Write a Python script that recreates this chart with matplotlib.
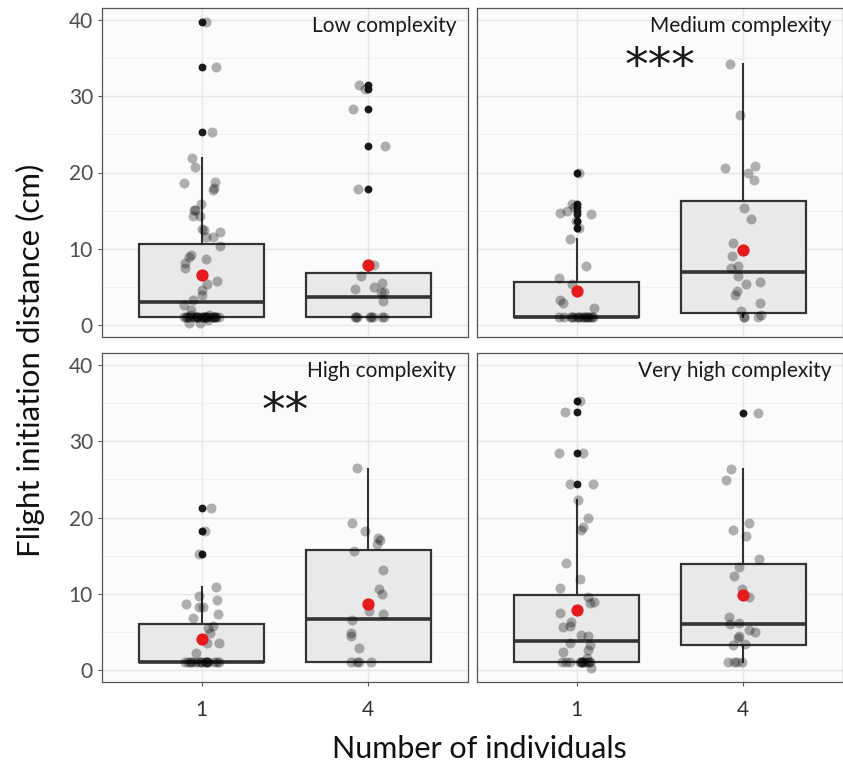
import numpy as np
import matplotlib
matplotlib.use("Agg")
from matplotlib import pyplot as plt

plt.rcParams['font.family'] = ['Lato', 'DejaVu Sans']

px = 1 / 100  # pixel in inches at dpi 100

# facet titles and x categories
facets = ["Low complexity", "Medium complexity", "High complexity", "Very high complexity"]
groups = ["1", "4"]
y_ticks = [0, 10, 20, 30, 40]

# flight initiation distance (cm), read from the jittered points
low_1 = [39.8, 33.9, 25.3, 21.9, 20.7, 18.7, 18.6, 17.9, 17.7, 15.9, 15.1, 15.1, 14.3, 14.3,
         12.6, 12.4, 12.2, 11.5, 11.5, 10.3, 9.2, 8.9, 8.6, 8.1, 7.5, 6.6, 6.6, 5.7, 5.3, 4.6,
         3.9, 3.3, 2.6, 2.0, 1.3, 1.3] + [1.0] * 26 + [0.6, 0.3, 0.3]
low_4 = [31.5, 31.0, 28.4, 23.5, 17.8, 7.8, 6.4, 5.5, 5.0, 4.7, 4.3, 4.3, 3.1] + [1.0] * 8
medium_1 = [20.0, 15.9, 15.5, 15.0, 14.7, 14.5, 13.6, 12.7, 11.3, 7.7, 6.2, 5.4, 3.2, 2.8,
            2.2] + [1.0] * 16
medium_4 = [34.3, 27.5, 20.8, 20.6, 20.0, 19.0, 15.4, 13.9, 10.7, 9.0, 7.7, 7.5, 6.4, 5.6,
            5.3, 4.5, 3.9, 2.9, 1.75, 1.3, 1.0, 1.0, 1.0]
high_1 = [21.3, 18.2, 15.2, 10.9, 9.7, 9.2, 8.7, 8.3, 8.3, 7.3, 6.8, 5.7, 5.5, 4.8, 3.5, 3.5,
          2.2] + [1.0] * 16
high_4 = [26.5, 19.3, 18.2, 17.3, 17.1, 16.5, 15.6, 13.1, 10.6, 9.9, 7.7, 7.3, 6.6, 4.8, 4.4,
          2.9] + [1.0] * 4
vhigh_1 = [35.3, 33.9, 28.5, 28.5, 24.4, 24.4, 22.3, 19.9, 18.8, 18.4, 14.0, 11.9, 10.8, 9.5,
           8.9, 8.8, 7.5, 6.3, 5.7, 5.6, 4.6, 4.4, 3.5, 3.3, 2.6, 2.4, 1.5, 0.2] + [1.0] * 12
vhigh_4 = [33.7, 26.4, 24.9, 19.3, 18.4, 17.6, 14.5, 13.5, 12.3, 10.6, 9.5, 7.0, 6.2, 6.0, 5.2,
           4.9, 4.4, 4.2, 3.4, 3.3] + [1.0] * 4
points = [[low_1, low_4], [medium_1, medium_4], [high_1, high_4], [vhigh_1, vhigh_4]]

box_q1 = [[1.0, 1.0], [1.0, 1.6], [1.0, 1.0], [1.0, 3.2]]
box_med = [[3.0, 3.6], [1.0, 6.9], [1.0, 6.7], [3.8, 6.0]]
box_q3 = [[10.6, 6.8], [5.6, 16.3], [6.0, 15.7], [9.8, 13.9]]
whisk_lo = [[1.0, 1.0], [1.0, 1.0], [1.0, 1.0], [1.0, 1.0]]
whisk_hi = [[21.9, 7.8], [11.3, 34.2], [10.9, 26.4], [22.3, 26.4]]
outliers = [[[39.8, 33.9, 25.3], [31.5, 31.0, 28.4, 23.5, 17.8]],
            [[20.0, 15.9, 15.5, 15.0, 14.5, 13.6, 12.7], []],
            [[21.3, 18.2, 15.2], []],
            [[35.3, 33.9, 28.5, 24.4], [33.7]]]
group_mean = [[6.5, 7.85], [4.5, 9.8], [4.0, 8.7], [7.9, 9.8]]

# significance stars
stars = ["", "***", "**", ""]

fig = plt.figure(figsize=(843 * px, 770 * px), dpi=100)

# panel rectangles in figure fractions (left, bottom, width, height)
W = 366 / 843
H = 329 / 770
rects = [(102 / 843, 1 - 337 / 770, W, H), (477 / 843, 1 - 337 / 770, W, H),
         (102 / 843, 1 - 682 / 770, W, H), (477 / 843, 1 - 682 / 770, W, H)]

rng = np.random.default_rng(7)

for i, title in enumerate(facets):
    ax = fig.add_axes(rects[i])
    ax.set_facecolor('#fbfbfb')

    stats = []
    for g in range(2):
        stats.append(dict(q1=box_q1[i][g], med=box_med[i][g], q3=box_q3[i][g],
                          whislo=whisk_lo[i][g], whishi=whisk_hi[i][g], fliers=[]))
    ax.bxp(stats, positions=[1, 2], widths=0.75, patch_artist=True, showfliers=False,
           showcaps=False, manage_ticks=False,
           boxprops=dict(facecolor='#e9e9e9', edgecolor='#333333', linewidth=1.6),
           medianprops=dict(color='#333333', linewidth=2.6),
           whiskerprops=dict(color='#333333', linewidth=1.5))

    for g in range(2):
        out = outliers[i][g]
        ax.scatter([g + 1] * len(out), out, s=32, color='#1a1a1a', linewidths=0, zorder=3)
        vals = np.array(points[i][g])
        xj = g + 1 + rng.uniform(-0.11, 0.11, len(vals))
        ax.scatter(xj, vals, s=52, color='black', alpha=0.3, linewidths=0, zorder=4)
        ax.scatter([g + 1], [group_mean[i][g]], s=78, color='#e41a1c', linewidths=0, zorder=5)

    ax.set_xlim(0.4, 2.6)
    ax.set_ylim(-1.6, 41.6)
    ax.set_yticks(y_ticks)
    ax.set_yticks([5, 15, 25, 35], minor=True)
    ax.set_xticks([1, 2])
    ax.grid(True, which='major', color='#e6e6e6', linewidth=1.0, zorder=0)
    ax.grid(True, which='minor', axis='y', color='#f0f0f0', linewidth=0.7, zorder=0)
    ax.set_axisbelow(True)
    for s in ax.spines.values():
        s.set_color('#555555')
        s.set_linewidth(0.9)
    ax.tick_params(which='major', length=3, width=0.8, color='#555555',
                   labelsize=15, labelcolor='#4d4d4d')
    ax.tick_params(which='minor', length=0)

    if i % 2 == 0:
        ax.set_yticklabels([str(t) for t in y_ticks])
    else:
        ax.tick_params(axis='y', labelleft=False, length=0)
    if i >= 2:
        ax.set_xticklabels(groups)
        ax.tick_params(axis='x', pad=10, labelsize=15, labelcolor='#333333')
    else:
        ax.tick_params(axis='x', labelbottom=False, length=0)

    ax.text(1 - 12 / 366, 1 - 8 / 329, title, transform=ax.transAxes, ha='right', va='top',
            fontsize=15, color='#1a1a1a')
    if stars[i]:
        ax.text(1.5, 33.8, stars[i], ha='center', va='center', fontsize=34,
                family='DejaVu Sans', color='#1a1a1a')

fig.text(0.036, 0.532, "Flight initiation distance (cm)", rotation=90, ha='center',
         va='center', fontsize=22.5, color='#111111')
fig.text(0.569, 0.027, "Number of individuals", ha='center', va='center', fontsize=22,
         color='#111111')

fig.savefig("out.png", dpi=100)
